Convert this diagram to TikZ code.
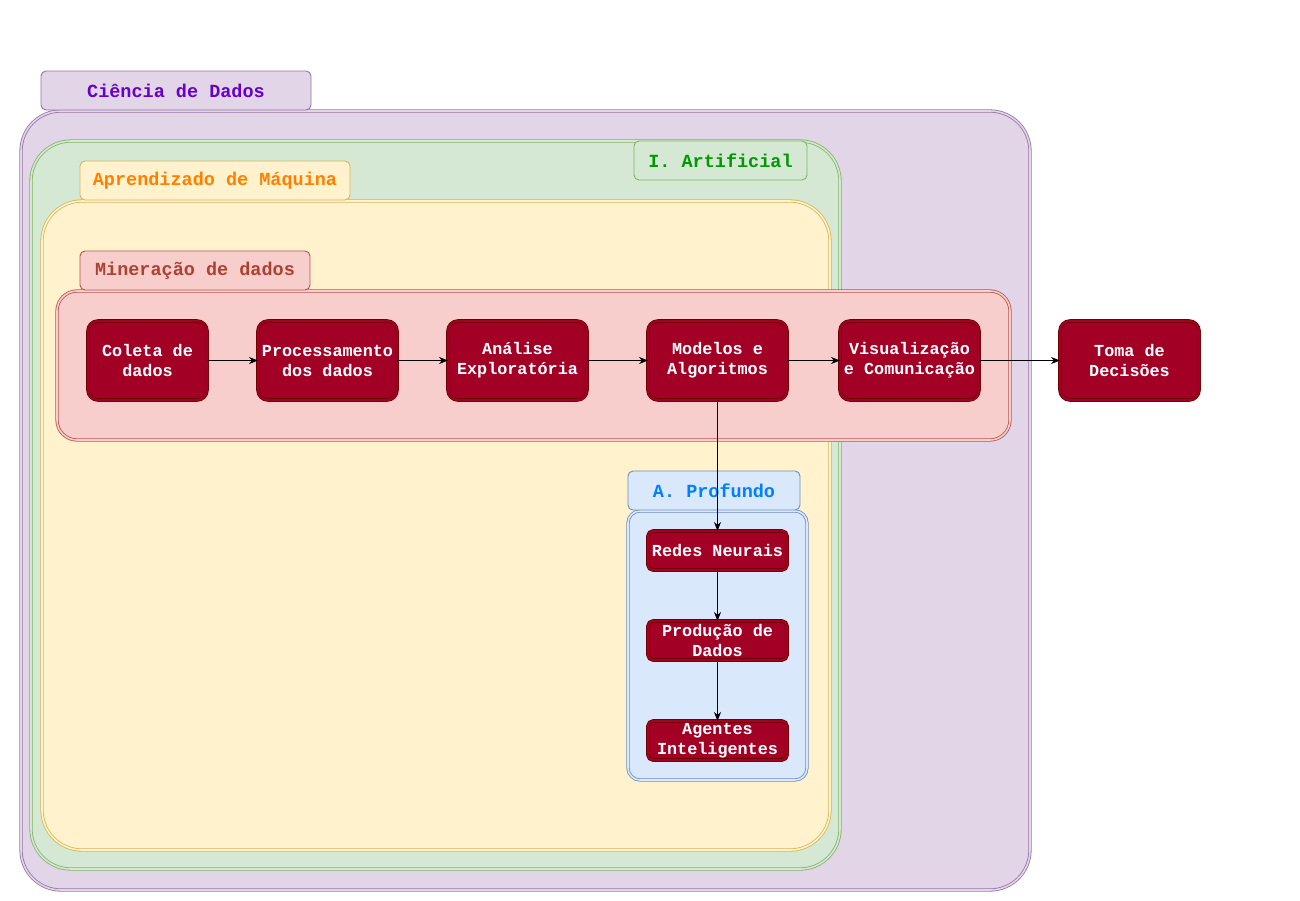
\documentclass[tikz,border=0pt]{standalone}
\usepackage{fontspec}
\setmainfont{Liberation Mono}
\usetikzlibrary{arrows.meta}
\definecolor{purF}{HTML}{E1D5E7}\definecolor{purS}{HTML}{9673A6}\definecolor{purT}{HTML}{6600CC}
\definecolor{grnF}{HTML}{D5E8D4}\definecolor{grnS}{HTML}{82B366}\definecolor{grnT}{HTML}{009900}
\definecolor{ylwF}{HTML}{FFF2CC}\definecolor{ylwS}{HTML}{D6B656}\definecolor{ylwT}{HTML}{FF8000}
\definecolor{redF}{HTML}{F8CECC}\definecolor{redS}{HTML}{B85450}\definecolor{redT}{HTML}{AE4132}
\definecolor{bluF}{HTML}{DAE8FC}\definecolor{bluS}{HTML}{6C8EBF}\definecolor{bluT}{HTML}{007FFF}
\definecolor{nodF}{HTML}{A20025}\definecolor{nodS}{HTML}{6F0000}
\tikzset{
  region/.style={rectangle, inner sep=0pt, outer sep=0pt, line width=0.8pt, double distance=1.6pt},
  tag/.style={rectangle, rounded corners=5pt, inner sep=0pt, outer sep=0pt, line width=0.9pt,
     font=\fontsize{18.5}{22}\selectfont\bfseries},
  proc/.style={rectangle, rounded corners=10pt, inner sep=0pt, outer sep=0pt, fill=nodF,
     draw=nodS, line width=0.8pt, double=nodF, double distance=2pt, text=white, align=center,
     font=\fontsize{16.8}{20}\selectfont\bfseries},
  small/.style={proc, rounded corners=5pt},
  arr/.style={-{Stealth[length=9pt,width=7pt]}, line width=0.8pt, black},
}
\begin{document}
\begin{tikzpicture}[x=1pt,y=-1pt]
\useasboundingbox (0,0) rectangle (1300,900);
% regions
\node[region, draw=purS, double=purF, fill=purF, rounded corners=40pt, minimum width=1009pt, minimum height=779pt] (ds) at (525.5,500.5) {};
\node[tag, draw=purS, fill=purF, text=purT, minimum width=270pt, minimum height=39pt] (dsl) at (176,90.5) {Ciência de Dados};
\node[region, draw=grnS, double=grnF, fill=grnF, rounded corners=40pt, minimum width=809pt, minimum height=728pt] (ia) at (435.5,505) {};
\node[tag, draw=grnS, fill=grnF, text=grnT, minimum width=173pt, minimum height=39pt] (ial) at (720.5,160.5) {I. Artificial};
\node[region, draw=ylwS, double=ylwF, fill=ylwF, rounded corners=40pt, minimum width=788pt, minimum height=649pt] (ml) at (436,525.5) {};
\node[tag, draw=ylwS, fill=ylwF, text=ylwT, minimum width=270pt, minimum height=39pt] (mll) at (215,180.5) {Aprendizado de Máquina};
\node[region, draw=redS, double=redF, fill=redF, rounded corners=20pt, minimum width=953pt, minimum height=149pt] (dm) at (533.5,365.5) {};
\node[tag, draw=redS, fill=redF, text=redT, minimum width=230pt, minimum height=39pt] (dml) at (195,270.5) {Mineração de dados};
\node[region, draw=bluS, double=bluF, fill=bluF, rounded corners=12pt, minimum width=179pt, minimum height=269pt] (dl) at (717.5,645.5) {};
\node[tag, draw=bluS, fill=bluF, text=bluT, minimum width=172pt, minimum height=39pt] (dll) at (714,490.5) {A. Profundo};
% process nodes
\node[proc, minimum width=119pt, minimum height=79pt] (c1) at (147.5,360.5) {Coleta de\\dados};
\node[proc, minimum width=139pt, minimum height=79pt] (c2) at (327.5,360.5) {Processamento\\dos dados};
\node[proc, minimum width=139pt, minimum height=79pt] (c3) at (517.5,360.5) {Análise\\Exploratória};
\node[proc, minimum width=139pt, minimum height=79pt] (c4) at (717.5,360.5) {Modelos e\\Algoritmos};
\node[proc, minimum width=139pt, minimum height=79pt] (c5) at (909.5,360.5) {Visualização\\e Comunicação};
\node[proc, minimum width=139pt, minimum height=79pt] (c6) at (1129.5,360.5) {Toma de\\Decisões};
\node[small, minimum width=139pt, minimum height=39pt] (d1) at (717.5,550.5) {Redes Neurais};
\node[small, minimum width=139pt, minimum height=39pt] (d2) at (717.5,640.5) {Produção de\\Dados};
\node[small, minimum width=139pt, minimum height=39pt] (d3) at (717.5,740.5) {Agentes\\Inteligentes};
% connectors
\draw[arr] (c1) -- (c2);
\draw[arr] (c2) -- (c3);
\draw[arr] (c3) -- (c4);
\draw[arr] (c4) -- (c5);
\draw[arr] (c5) -- (c6);
\draw[arr] (c4) -- (d1);
\draw[arr] (d1) -- (d2);
\draw[arr] (d2) -- (d3);
\end{tikzpicture}
\end{document}
